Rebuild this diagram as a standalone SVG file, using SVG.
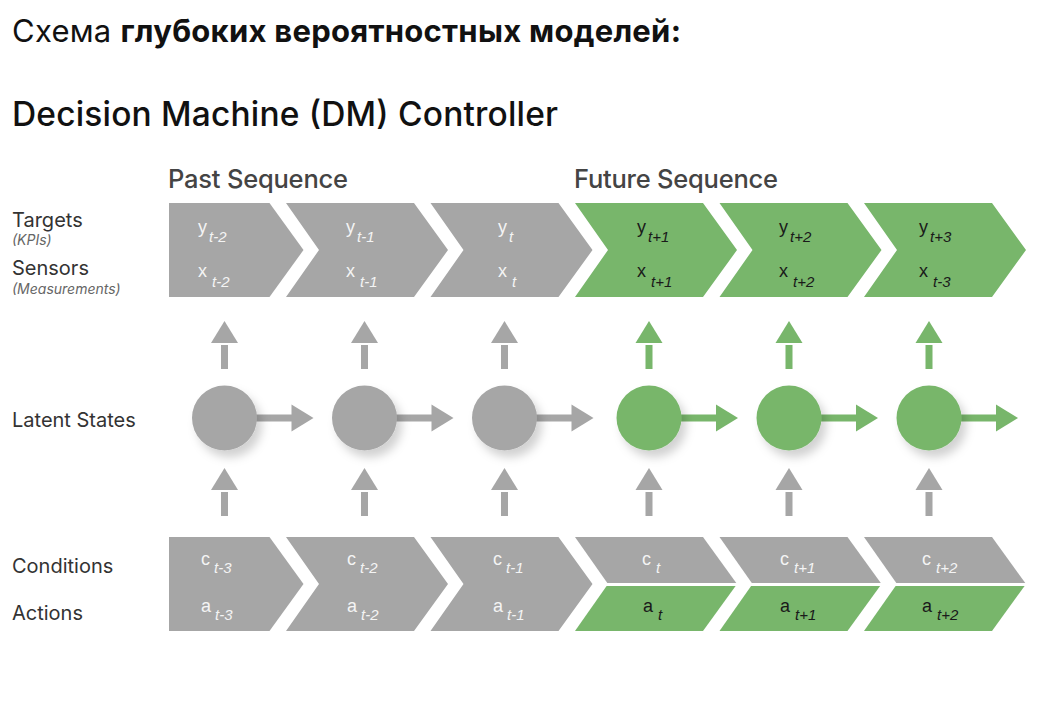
<svg xmlns="http://www.w3.org/2000/svg" width="1048" height="702" viewBox="0 0 1048 702">
<defs>
<style>
.g{fill:#a6a6a6}
.gr{fill:#78b66b}
.ttl{font-family:Inter,"Noto Sans",sans-serif;fill:#111}
.seq{font-family:Inter,"Noto Sans",sans-serif;font-size:25.5px;font-weight:500;fill:#444}
.lab{font-family:Inter,"Noto Sans",sans-serif;font-size:20px;fill:#333}
.sm{font-family:Inter,"Noto Sans",sans-serif;font-size:14px;font-style:italic;fill:#666}
.v{font-family:"Liberation Sans",Arial,sans-serif;font-size:18px}
.w{fill:#f4f4f4}
.d{fill:#1a1a1a}
.s{font-size:15px;font-style:italic}
</style>
<filter id="sh" x="-40%" y="-40%" width="200%" height="200%">
<feDropShadow dx="5" dy="7" stdDeviation="5" flood-color="#000" flood-opacity="0.18"/>
</filter>
<g id="arrR"><rect x="0" y="-3.5" width="68" height="7"/><polygon points="67,-13.5 89,0 67,13.5"/></g>
<g id="arrU"><rect x="-3.5" y="-22" width="7" height="24"/><polygon points="-13.5,-24 0,-46 13.5,-24"/></g>
</defs>
<rect width="1048" height="702" fill="#fff"/>

<text class="ttl" x="12" y="42" font-size="31" textLength="669" lengthAdjust="spacing">Схема <tspan font-weight="700">глубоких вероятностных моделей:</tspan></text>
<text class="ttl" x="12" y="126" font-size="33.5" font-weight="500" textLength="546" lengthAdjust="spacing">Decision Machine (DM) Controller</text>
<text class="seq" x="168" y="188" textLength="180" lengthAdjust="spacing">Past Sequence</text>
<text class="seq" x="574" y="188" textLength="204" lengthAdjust="spacing">Future Sequence</text>

<g id="labels">
<text class="lab" x="12" y="227">Targets</text>
<text class="sm" x="12" y="245">(KPIs)</text>
<text class="lab" x="12" y="275">Sensors</text>
<text class="sm" x="12" y="294">(Measurements)</text>
<text class="lab" x="12" y="427">Latent States</text>
<text class="lab" x="12" y="573">Conditions</text>
<text class="lab" x="12" y="620">Actions</text>
</g>

<g id="top1"><polygon class="g" points="169,203 269.5,203 303.5,250 269.5,297 169,297"/>
<text class="v w" x="198" y="233">y<tspan class="s" dx="2" dy="9">t-2</tspan></text>
<text class="v w" x="198" y="277">x<tspan class="s" dx="5" dy="10">t-2</tspan></text></g>
<g id="top2"><polygon class="g" points="286,203 414,203 448,250 414,297 286,297 319,250"/>
<text class="v w" x="346" y="233">y<tspan class="s" dx="2" dy="9">t-1</tspan></text>
<text class="v w" x="346" y="277">x<tspan class="s" dx="5" dy="10">t-1</tspan></text></g>
<g id="top3"><polygon class="g" points="430.5,203 558.5,203 592.5,250 558.5,297 430.5,297 463.5,250"/>
<text class="v w" x="498" y="233">y<tspan class="s" dx="2" dy="9">t</tspan></text>
<text class="v w" x="498" y="277">x<tspan class="s" dx="5" dy="10">t</tspan></text></g>
<g id="top4"><polygon class="gr" points="575,203 703,203 737,250 703,297 575,297 608,250"/>
<text class="v d" x="637" y="233">y<tspan class="s" dx="2" dy="9">t+1</tspan></text>
<text class="v d" x="637" y="277">x<tspan class="s" dx="5" dy="10">t+1</tspan></text></g>
<g id="top5"><polygon class="gr" points="719.5,203 847.5,203 881.5,250 847.5,297 719.5,297 752.5,250"/>
<text class="v d" x="779" y="233">y<tspan class="s" dx="2" dy="9">t+2</tspan></text>
<text class="v d" x="779" y="277">x<tspan class="s" dx="5" dy="10">t+2</tspan></text></g>
<g id="top6"><polygon class="gr" points="864,203 992,203 1026,250 992,297 864,297 897,250"/>
<text class="v d" x="919" y="233">y<tspan class="s" dx="2" dy="9" font-size="17">t+3</tspan></text>
<text class="v d" x="919" y="277">x<tspan class="s" dx="5" dy="10">t-3</tspan></text></g>

<g id="connectors">
<g class="g"><use href="#arrU" transform="translate(224.5,367)"/><use href="#arrU" transform="translate(364.5,367)"/><use href="#arrU" transform="translate(504.5,367)"/></g>
<g class="gr"><use href="#arrU" transform="translate(649,367)"/><use href="#arrU" transform="translate(789,367)"/><use href="#arrU" transform="translate(929,367)"/></g>
<g class="g"><use href="#arrU" transform="translate(224.5,514)"/><use href="#arrU" transform="translate(364.5,514)"/><use href="#arrU" transform="translate(504.5,514)"/>
<use href="#arrU" transform="translate(649,514)"/><use href="#arrU" transform="translate(789,514)"/><use href="#arrU" transform="translate(929,514)"/></g>
<g class="g"><use href="#arrR" transform="translate(224.5,418)"/><use href="#arrR" transform="translate(364.5,418)"/><use href="#arrR" transform="translate(504.5,418)"/></g>
<g class="gr"><use href="#arrR" transform="translate(649,418)"/><use href="#arrR" transform="translate(789,418)"/><use href="#arrR" transform="translate(929,418)"/></g>
</g>

<g id="latent1"><circle class="g" cx="224.5" cy="418" r="32.5" filter="url(#sh)"/></g>
<g id="latent2"><circle class="g" cx="364.5" cy="418" r="32.5" filter="url(#sh)"/></g>
<g id="latent3"><circle class="g" cx="504.5" cy="418" r="32.5" filter="url(#sh)"/></g>
<g id="latent4"><circle class="gr" cx="649" cy="418" r="32.5" filter="url(#sh)"/></g>
<g id="latent5"><circle class="gr" cx="789" cy="418" r="32.5" filter="url(#sh)"/></g>
<g id="latent6"><circle class="gr" cx="929" cy="418" r="32.5" filter="url(#sh)"/></g>

<g id="bot1"><polygon class="g" points="169,537 269.5,537 303.5,584 269.5,631 169,631"/>
<text class="v w" x="201" y="565">c<tspan class="s" dx="4" dy="8">t-3</tspan></text>
<text class="v w" x="201" y="612">a<tspan class="s" dx="4" dy="8">t-3</tspan></text></g>
<g id="bot2"><polygon class="g" points="286,537 414,537 448,584 414,631 286,631 319,584"/>
<text class="v w" x="347" y="565">c<tspan class="s" dx="4" dy="8">t-2</tspan></text>
<text class="v w" x="347" y="612">a<tspan class="s" dx="4" dy="8">t-2</tspan></text></g>
<g id="bot3"><polygon class="g" points="430.5,537 558.5,537 592.5,584 558.5,631 430.5,631 463.5,584"/>
<text class="v w" x="493" y="565">c<tspan class="s" dx="4" dy="8">t-1</tspan></text>
<text class="v w" x="493" y="612">a<tspan class="s" dx="4" dy="8">t-1</tspan></text></g>
<g id="bot4"><polygon class="g" points="575,537 703,537 736.3,583 607.3,583"/>
<polygon class="gr" points="606.6,586 735.6,586 703,631 575,631"/>
<text class="v w" x="642" y="565">c<tspan class="s" dx="5" dy="8">t</tspan></text>
<text class="v d" x="643" y="612">a<tspan class="s" dx="5" dy="8">t</tspan></text></g>
<g id="bot5"><polygon class="g" points="719.5,537 847.5,537 880.8,583 751.8,583"/>
<polygon class="gr" points="751.1,586 880.1,586 847.5,631 719.5,631"/>
<text class="v w" x="780" y="565">c<tspan class="s" dx="5" dy="8">t+1</tspan></text>
<text class="v d" x="780" y="612">a<tspan class="s" dx="5" dy="8">t+1</tspan></text></g>
<g id="bot6"><polygon class="g" points="864,537 992,537 1025.3,583 896.3,583"/>
<polygon class="gr" points="895.6,586 1024.6,586 992,631 864,631"/>
<text class="v w" x="922" y="565">c<tspan class="s" dx="5" dy="8">t+2</tspan></text>
<text class="v d" x="922" y="612">a<tspan class="s" dx="5" dy="8">t+2</tspan></text></g>
</svg>
